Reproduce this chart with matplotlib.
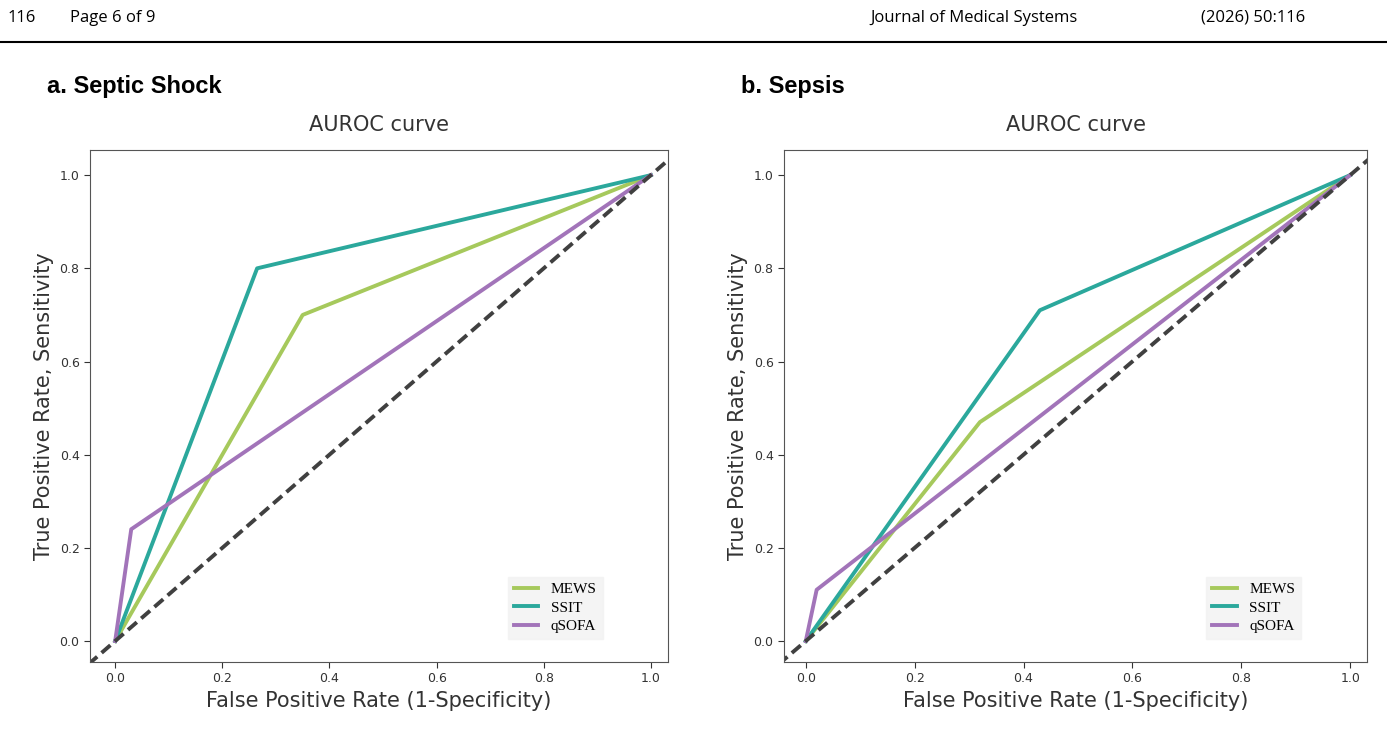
import matplotlib
matplotlib.use("Agg")
import matplotlib.pyplot as plt

# ROC points
fpr_mews_a = [0.0, 0.35, 1.0]
tpr_mews_a = [0.0, 0.70, 1.0]
fpr_ssit_a = [0.0, 0.265, 1.0]
tpr_ssit_a = [0.0, 0.80, 1.0]
fpr_qsofa_a = [0.0, 0.03, 1.0]
tpr_qsofa_a = [0.0, 0.24, 1.0]

fpr_mews_b = [0.0, 0.32, 1.0]
tpr_mews_b = [0.0, 0.47, 1.0]
fpr_ssit_b = [0.0, 0.43, 1.0]
tpr_ssit_b = [0.0, 0.71, 1.0]
fpr_qsofa_b = [0.0, 0.02, 1.0]
tpr_qsofa_b = [0.0, 0.11, 1.0]

ticks = [0.0, 0.2, 0.4, 0.6, 0.8, 1.0]
tick_labels = ["0.0", "0.2", "0.4", "0.6", "0.8", "1.0"]

c_mews, c_ssit, c_qsofa = "#a6c95c", "#2ba89c", "#a274b9"

W, H = 1387, 746
fig = plt.figure(figsize=(W / 100, H / 100), dpi=100)

# page header
hdr = dict(fontsize=12, va="center", family="Open Sans")
fig.text(8 / W, 1 - 18 / H, "116", **hdr)
fig.text(70 / W, 1 - 18 / H, "Page 6 of 9", **hdr)
fig.text(870 / W, 1 - 18 / H, "Journal of Medical Systems", **hdr)
fig.text(1305 / W, 1 - 18 / H, "(2026) 50:116", ha="right", **{k: v for k, v in hdr.items()})
fig.add_artist(plt.Line2D([0, 1], [1 - 42 / H, 1 - 42 / H], color="black", lw=1.5))


def panel(left, right, xlim, letter, data):
    ax = fig.add_axes([left / W, 1 - 662 / H, (right - left) / W, 512 / H])
    for (x, y, c, lab) in data:
        ax.plot(x, y, color=c, lw=2.8, label=lab)
    ax.plot([-0.05, 1.05], [-0.05, 1.05], ls=(0, (3, 1.5)), color="#404040", lw=2.8)
    ax.set_xlim(*xlim)
    ax.set_ylim(-0.045, 1.054)
    ax.set_xticks(ticks, tick_labels, fontsize=9)
    ax.set_yticks(ticks, tick_labels, fontsize=9)
    ax.tick_params(colors="#333333", length=4)
    for s in ax.spines.values():
        s.set_color("#555555")
    ax.set_xlabel("False Positive Rate (1-Specificity)", fontsize=15, color="#333333")
    ax.set_ylabel("True Positive Rate, Sensitivity", fontsize=15, color="#333333")
    ax.set_title("AUROC curve", fontsize=15, color="#333333", pad=14)
    leg = ax.legend(loc="lower right", bbox_to_anchor=(0.9, 0.03), prop={"family": "Liberation Serif", "size": 11},
                    frameon=True, fancybox=False, handlelength=1.6, labelspacing=0.3)
    leg.get_frame().set_facecolor("#f2f2f2")
    leg.get_frame().set_edgecolor("#f2f2f2")
    fig.text((left - 43) / W, 1 - 87 / H, letter, fontsize=17, fontweight="bold",
             family="Liberation Sans", va="center")
    return ax


panel(90, 668, (-0.047, 1.032), "a. Septic Shock",
      [(fpr_mews_a, tpr_mews_a, c_mews, "MEWS"),
       (fpr_ssit_a, tpr_ssit_a, c_ssit, "SSIT"),
       (fpr_qsofa_a, tpr_qsofa_a, c_qsofa, "qSOFA")])
panel(784, 1367, (-0.04, 1.031), "b. Sepsis",
      [(fpr_mews_b, tpr_mews_b, c_mews, "MEWS"),
       (fpr_ssit_b, tpr_ssit_b, c_ssit, "SSIT"),
       (fpr_qsofa_b, tpr_qsofa_b, c_qsofa, "qSOFA")])

fig.savefig("out.png", dpi=100)
